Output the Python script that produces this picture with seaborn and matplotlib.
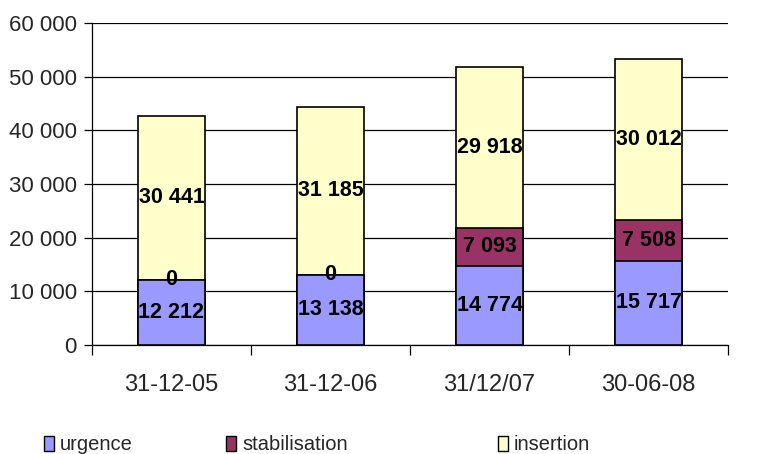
import pandas as pd
import matplotlib
matplotlib.use("Agg")
import matplotlib.pyplot as plt
import seaborn as sns
from matplotlib.patches import Patch

sns.set_theme(style="white")
plt.rcParams['font.family'] = ['Liberation Sans', 'DejaVu Sans']

# data
dates = ["31-12-05", "31-12-06", "31/12/07", "30-06-08"]
urgence = [12212, 13138, 14774, 15717]
stabilisation = [0, 0, 7093, 7508]
insertion = [30441, 31185, 29918, 30012]
series_names = ["urgence", "stabilisation", "insertion"]
colors = ["#9999FF", "#993366", "#FFFFCC"]

df = pd.DataFrame({"date": dates, "urgence": urgence,
                   "stabilisation": stabilisation, "insertion": insertion})
df["c1"] = df["urgence"]
df["c2"] = df["c1"] + df["stabilisation"]
df["c3"] = df["c2"] + df["insertion"]

fig = plt.figure(figsize=(7.64, 4.54), dpi=100)
ax = fig.add_axes([0.1204, 0.240, 0.8326, 0.709])

# stacked bars: draw cumulative totals from top to bottom
for col, color in zip(["c3", "c2", "c1"], colors[::-1]):
    sns.barplot(data=df, x="date", y=col, color=color, width=0.42,
                edgecolor="black", linewidth=1.2, saturation=1, ax=ax, zorder=3)

# value labels in the middle of each segment
def fmt(v):
    return f"{v:,}".replace(",", " ")

for i in range(len(dates)):
    bottom = 0
    for name in series_names:
        v = df[name][i]
        ax.text(i, bottom + v / 2, fmt(v), ha="center", va="center",
                fontsize=15.5, fontweight="bold", color="black", zorder=5)
        bottom += v

ax.set_ylim(0, 60000)
ax.set_xlim(-0.5, 3.5)
ax.set_yticks(range(0, 60001, 10000))
ax.set_yticklabels([fmt(v) for v in range(0, 60001, 10000)], fontsize=16)
ax.yaxis.grid(True, color="black", linewidth=0.9)
ax.set_axisbelow(True)
ax.tick_params(axis="y", left=True, length=6, width=0.9, color="black", pad=5)

# category labels without ticks, ticks at boundaries
ax.set_xticks(range(len(dates)))
ax.set_xticklabels(dates, fontsize=17)
ax.tick_params(axis="x", which="major", bottom=False, pad=15)
ax.set_xticks([-0.5, 0.5, 1.5, 2.5, 3.5], minor=True)
ax.tick_params(axis="x", which="minor", bottom=True, length=7, width=0.9,
               color="black", direction="out")
ax.set_xlabel("")
ax.set_ylabel("")

for s in ["top", "right"]:
    ax.spines[s].set_visible(False)
for s in ["left", "bottom"]:
    ax.spines[s].set_color("black")
    ax.spines[s].set_linewidth(0.9)

# legend entries spread along the bottom
legend_x = [44, 226, 498]
for name, color, x in zip(series_names, colors, legend_x):
    fig.legend(handles=[Patch(facecolor=color, edgecolor="black", linewidth=1)],
               labels=[name], loc="center left",
               bbox_to_anchor=(x / 764, 1 - 445 / 454), frameon=False,
               fontsize=14.5, handlelength=0.5, handleheight=0.7,
               handletextpad=0.3, borderpad=0, borderaxespad=0)

fig.savefig("out.png", dpi=100)
